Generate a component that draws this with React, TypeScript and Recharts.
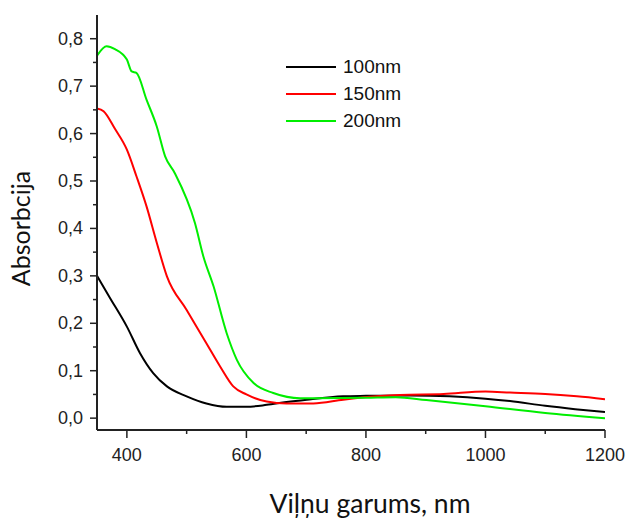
import { LineChart, Line, XAxis, YAxis, Legend, Label } from "recharts";

// wavelength (nm) / absorbance samples
const nm100 = [350, 372, 400, 422, 444, 467, 500, 533, 567, 600, 634, 667, 701, 762, 800, 874, 940, 1000, 1041, 1100, 1150, 1200];
const abs100 = [0.3, 0.253, 0.193, 0.137, 0.095, 0.067, 0.046, 0.031, 0.024, 0.024, 0.028, 0.034, 0.039, 0.046, 0.047, 0.048, 0.046, 0.041, 0.036, 0.026, 0.019, 0.013];

const nm150 = [350, 361, 380, 400, 416, 433, 450, 467, 500, 533, 556, 578, 600, 634, 667, 712, 762, 818, 857, 930, 1000, 1041, 1100, 1153, 1200];
const abs150 = [0.653, 0.647, 0.61, 0.566, 0.51, 0.446, 0.37, 0.299, 0.228, 0.158, 0.109, 0.067, 0.05, 0.035, 0.031, 0.031, 0.039, 0.046, 0.049, 0.051, 0.056, 0.054, 0.051, 0.046, 0.04];

const nm200 = [350, 366, 380, 400, 408, 416, 433, 450, 464, 480, 514, 528, 545, 567, 584, 612, 645, 690, 800, 850, 901, 1000, 1100, 1200];
const abs200 = [0.764, 0.784, 0.778, 0.756, 0.731, 0.728, 0.671, 0.615, 0.552, 0.517, 0.411, 0.341, 0.278, 0.179, 0.123, 0.074, 0.053, 0.042, 0.043, 0.044, 0.038, 0.025, 0.011, 0.0];

const seriesNames = ["100nm", "150nm", "200nm"];
const seriesColors = ["#000000", "#ff0000", "#00ee00"];

const xTicks = [400, 500, 600, 700, 800, 900, 1000, 1100, 1200];
const yTicks = [0, 0.05, 0.1, 0.15, 0.2, 0.25, 0.3, 0.35, 0.4, 0.45, 0.5, 0.55, 0.6, 0.65, 0.7, 0.75, 0.8];

const toRows = (xs: number[], ys: number[]) => xs.map((x, i) => ({ nm: x, a: ys[i] }));
const series = [toRows(nm100, abs100), toRows(nm150, abs150), toRows(nm200, abs200)];

const tickFont = "'Liberation Sans', Arial, sans-serif";
const titleFont = "Lato, 'Open Sans', sans-serif";
const axisColor = "#222";

const XTick = (props: any) => {
  const { x, y, payload } = props;
  const major = payload.value % 200 === 0;
  return (
    <g>
      <line x1={x} x2={x} y1={y} y2={y + (major ? 8 : 4)} stroke={axisColor} strokeWidth={1.5} />
      {major && (
        <text x={x} y={y + 31} textAnchor="middle" fontSize={18} fontFamily={tickFont} fill="#222">
          {payload.value}
        </text>
      )}
    </g>
  );
};

const YTick = (props: any) => {
  const { x, y, payload } = props;
  const major = Math.round(payload.value * 100) % 10 === 0;
  return (
    <g>
      <line x1={x} x2={x - (major ? 7 : 4)} y1={y} y2={y} stroke={axisColor} strokeWidth={1.5} />
      {major && (
        <text x={x - 14} y={y + 6} textAnchor="end" fontSize={18} fontFamily={tickFont} fill="#222">
          {payload.value.toFixed(1).replace(".", ",")}
        </text>
      )}
    </g>
  );
};

const renderLegend = () => (
  <div style={{ fontFamily: tickFont, fontSize: 19, color: "#111" }}>
    {seriesNames.map((name, i) => (
      <div key={name} style={{ display: "flex", alignItems: "center", height: 27 }}>
        <span style={{ display: "inline-block", width: 50, height: 2, background: seriesColors[i], marginRight: 7 }} />
        <span>{name}</span>
      </div>
    ))}
  </div>
);

export default function App() {
  return (
    <div style={{ position: "absolute", left: 0, top: 0, width: 630, height: 521, background: "#fff" }}>
      <LineChart width={630} height={521} margin={{ top: 15, right: 25, bottom: 51, left: 37 }}>
        <XAxis
          dataKey="nm"
          type="number"
          domain={[350, 1200]}
          ticks={xTicks}
          allowDataOverflow
          tickSize={0}
          tickMargin={0}
          tickLine={false}
          tick={<XTick />}
          height={40}
          axisLine={{ stroke: axisColor, strokeWidth: 2 }}
        >
          <Label
            value="Viļņu garums, nm"
            position="bottom"
            offset={0}
            dx={19}
            dy={24}
            style={{ fontFamily: titleFont, fontSize: 26.5, fill: "#111" }}
          />
        </XAxis>
        <YAxis
          dataKey="a"
          type="number"
          domain={[-0.025, 0.85]}
          ticks={yTicks}
          allowDataOverflow
          tickSize={0}
          tickMargin={0}
          tickLine={false}
          tick={<YTick />}
          width={60}
          axisLine={{ stroke: axisColor, strokeWidth: 2 }}
        >
          <Label
            value="Absorbcija"
            angle={-90}
            position="left"
            offset={0}
            dx={-16}
            dy={6}
            style={{ fontFamily: titleFont, fontSize: 25, fill: "#111", textAnchor: "middle" }}
          />
        </YAxis>
        <Legend
          layout="vertical"
          align="center"
          verticalAlign="middle"
          content={renderLegend}
          wrapperStyle={{ left: 286, top: 53, width: 130 }}
        />
        {series.map((rows, i) => (
          <Line
            key={seriesNames[i]}
            data={rows}
            dataKey="a"
            name={seriesNames[i]}
            type="monotone"
            stroke={seriesColors[i]}
            strokeWidth={2}
            dot={false}
            isAnimationActive={false}
          />
        ))}
      </LineChart>
    </div>
  );
}
